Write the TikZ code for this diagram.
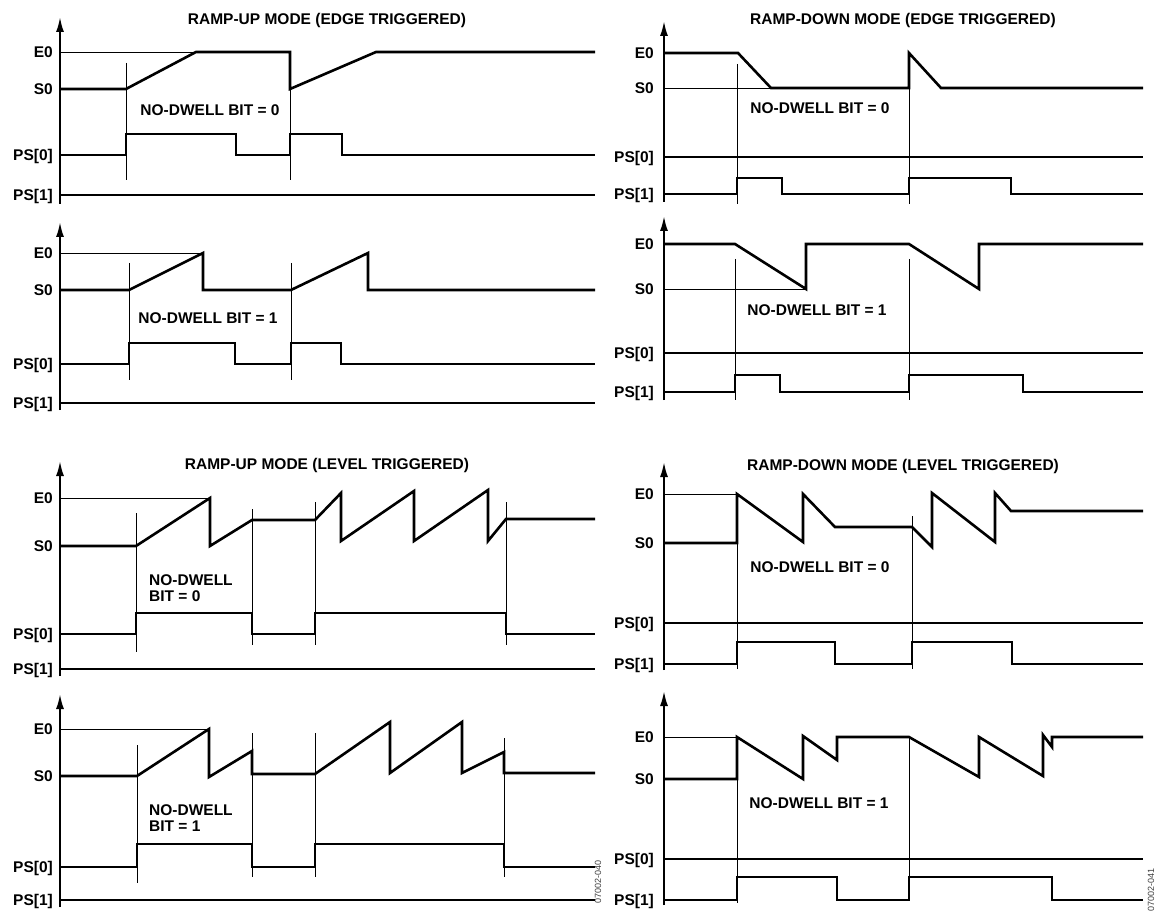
\documentclass[tikz,border=0pt]{standalone}
\usepackage{fontspec}
\setmainfont{Liberation Sans}
\usetikzlibrary{arrows.meta}

\begin{document}
\begin{tikzpicture}[x=1pt, y=-1pt,
    font=\fontsize{15.5}{16}\selectfont\bfseries,
    lbl/.style={anchor=east, inner sep=0pt, text height=11.1pt, text depth=0pt},
    note/.style={inner sep=0pt, text height=11.1pt, text depth=0pt},
    twoline/.style={inner sep=0pt, anchor=west, align=left},
    axis/.style={line width=2pt, -{Latex[length=15pt, width=8pt]}}]
  \useasboundingbox (0,0) rectangle (1157,917);

  % Titles of the four modes
  \node[note] (tUpEdge)   at (327,19)  {RAMP-UP MODE (EDGE TRIGGERED)};
  \node[note] (tDnEdge)   at (903,19)  {RAMP-DOWN MODE (EDGE TRIGGERED)};
  \node[note] (tUpLevel)  at (327,464) {RAMP-UP MODE (LEVEL TRIGGERED)};
  \node[note] (tDnLevel)  at (903,465) {RAMP-DOWN MODE (LEVEL TRIGGERED)};

  % Axes with arrow heads
  \draw[axis] (60,204) -- (60,17);
  \draw[axis] (60,410) -- (60,222);
  \draw[axis] (60,676) -- (60,461);
  \draw[axis] (60,907) -- (60,694);
  \draw[axis] (664,202) -- (664,21);
  \draw[axis] (664,400) -- (664,216);
  \draw[axis] (664,670) -- (664,462);
  \draw[axis] (664,905) -- (664,691);

  % Level names, left column
  \node[lbl] (aE)  at (53,52)  {E0};
  \node[lbl] (aS)  at (53,89)  {S0};
  \node[lbl] (aP0) at (53,155) {PS[0]};
  \node[lbl] (aP1) at (53,195) {PS[1]};
  \node[lbl] (bE)  at (53,253) {E0};
  \node[lbl] (bS)  at (53,290) {S0};
  \node[lbl] (bP0) at (53,364) {PS[0]};
  \node[lbl] (bP1) at (53,403) {PS[1]};
  \node[lbl] (cE)  at (53,498) {E0};
  \node[lbl] (cS)  at (53,546) {S0};
  \node[lbl] (cP0) at (53,634) {PS[0]};
  \node[lbl] (cP1) at (53,669) {PS[1]};
  \node[lbl] (dE)  at (53,729) {E0};
  \node[lbl] (dS)  at (53,776) {S0};
  \node[lbl] (dP0) at (53,867) {PS[0]};
  \node[lbl] (dP1) at (53,900) {PS[1]};
  % Level names, right column
  \node[lbl] (eE)  at (654,53)  {E0};
  \node[lbl] (eS)  at (654,88)  {S0};
  \node[lbl] (eP0) at (654,157) {PS[0]};
  \node[lbl] (eP1) at (654,194) {PS[1]};
  \node[lbl] (fE)  at (654,244) {E0};
  \node[lbl] (fS)  at (654,289) {S0};
  \node[lbl] (fP0) at (654,353) {PS[0]};
  \node[lbl] (fP1) at (654,392) {PS[1]};
  \node[lbl] (gE)  at (654,494) {E0};
  \node[lbl] (gS)  at (654,543) {S0};
  \node[lbl] (gP0) at (654,623) {PS[0]};
  \node[lbl] (gP1) at (654,664) {PS[1]};
  \node[lbl] (hE)  at (654,737) {E0};
  \node[lbl] (hS)  at (654,779) {S0};
  \node[lbl] (hP0) at (654,859) {PS[0]};
  \node[lbl] (hP1) at (654,900) {PS[1]};

  % No-dwell notes
  \node[note] (nA) at (210,110) {NO-DWELL BIT = 0};
  \node[note] (nB) at (208,318) {NO-DWELL BIT = 1};
  \node[twoline] (nC) at (149,588) {NO-DWELL\\BIT = 0};
  \node[twoline] (nD) at (149,818) {NO-DWELL\\BIT = 1};
  \node[note] (nE) at (820,108) {NO-DWELL BIT = 0};
  \node[note] (nF) at (817,310) {NO-DWELL BIT = 1};
  \node[note] (nG) at (820,567) {NO-DWELL BIT = 0};
  \node[note] (nH) at (819,803) {NO-DWELL BIT = 1};

  % Figure numbers
  \node[rotate=90, font=\fontsize{9}{10}\selectfont, text=black!75] (fig40) at (598,882) {07002-040};
  \node[rotate=90, font=\fontsize{9}{10}\selectfont, text=black!75] (fig41) at (1151,890) {07002-041};

  % Thin guide lines: E0/S0 reference and trigger edges
  \begin{scope}[line width=0.9pt]
    \draw (60,52) -- (196,52);
    \draw (126,63) -- (126,180);
    \draw (290,63) -- (290,180);

    \draw (60,253) -- (203,253);
    \draw (129,263) -- (129,380);
    \draw (291,263) -- (291,380);

    \draw (60,498) -- (210,498);
    \draw (136,513) -- (136,652);
    \draw (252,509) -- (252,645);
    \draw (315,502) -- (315,645);
    \draw (506,502) -- (506,645);

    \draw (60,729) -- (209,729);
    \draw (137,745) -- (137,883);
    \draw (252,733) -- (252,877);
    \draw (315,733) -- (315,877);
    \draw (504,738) -- (504,877);

    \draw (664,88) -- (771,88);
    \draw (737,64) -- (737,204);
    \draw (909,64) -- (909,204);

    \draw (664,289) -- (806,289);
    \draw (735,259) -- (735,400);
    \draw (909,259) -- (909,400);

    \draw (664,494) -- (737,494);
    \draw (737,494) -- (737,669);
    \draw (912,516) -- (912,669);

    \draw (664,737) -- (737,737);
    \draw (737,737) -- (737,903);
    \draw (909,737) -- (909,897);
  \end{scope}

  % Frequency sweeps and profile pins
  \begin{scope}[line width=2.6pt]
    % Ramp-up, edge triggered, no-dwell 0
    \draw (60,89) -- (126,89) -- (196,52) -- (290,52) -- (290,89) -- (376,52) -- (595,52);
    \draw (60,155) -- (126,155) -- (126,134) -- (236,134) -- (236,155) -- (290,155) -- (290,134) -- (342,134) -- (342,155) -- (595,155);
    \draw (60,195) -- (595,195);
    % Ramp-up, edge triggered, no-dwell 1
    \draw (60,290) -- (129,290) -- (203,253) -- (203,290) -- (291,290) -- (368,253) -- (368,290) -- (595,290);
    \draw (60,364) -- (129,364) -- (129,343) -- (235,343) -- (235,364) -- (291,364) -- (291,343) -- (341,343) -- (341,364) -- (595,364);
    \draw (60,403) -- (595,403);
    % Ramp-up, level triggered, no-dwell 0
    \draw (60,546) -- (136,546) -- (210,498) -- (210,546) -- (252,520) -- (315,520) -- (341,493) -- (341,541) -- (414,491) -- (414,541) -- (488,490) -- (488,541) -- (506,519) -- (595,519);
    \draw (60,634) -- (136,634) -- (136,613) -- (252,613) -- (252,634) -- (315,634) -- (315,613) -- (506,613) -- (506,634) -- (595,634);
    \draw (60,669) -- (595,669);
    % Ramp-up, level triggered, no-dwell 1
    \draw (60,776) -- (137,776) -- (209,729) -- (209,777) -- (252,751) -- (252,774) -- (315,774) -- (390,722) -- (390,773) -- (462,722) -- (462,773) -- (504,752) -- (504,773) -- (595,773);
    \draw (60,867) -- (137,867) -- (137,844) -- (252,844) -- (252,867) -- (315,867) -- (315,844) -- (504,844) -- (504,867) -- (595,867);
    \draw (60,900) -- (595,900);

    % Ramp-down, edge triggered, no-dwell 0
    \draw (664,53) -- (738,53) -- (771,88) -- (909,88) -- (909,53) -- (941,88) -- (1143,88);
    \draw (664,157) -- (1143,157);
    \draw (664,194) -- (737,194) -- (737,178) -- (782,178) -- (782,194) -- (909,194) -- (909,178) -- (1011,178) -- (1011,194) -- (1143,194);
    % Ramp-down, edge triggered, no-dwell 1
    \draw (664,244) -- (735,244) -- (806,289) -- (806,244) -- (909,244) -- (979,289) -- (979,244) -- (1143,244);
    \draw (664,353) -- (1143,353);
    \draw (664,392) -- (735,392) -- (735,375) -- (780,375) -- (780,392) -- (909,392) -- (909,375) -- (1023,375) -- (1023,392) -- (1143,392);
    % Ramp-down, level triggered, no-dwell 0
    \draw (664,543) -- (737,543) -- (737,494) -- (803,542) -- (803,494) -- (835,527) -- (912,527) -- (932,547) -- (932,493) -- (995,542) -- (995,493) -- (1011,511) -- (1143,511);
    \draw (664,623) -- (1143,623);
    \draw (664,664) -- (737,664) -- (737,642) -- (835,642) -- (835,664) -- (912,664) -- (912,642) -- (1012,642) -- (1012,664) -- (1143,664);
    % Ramp-down, level triggered, no-dwell 1
    \draw (664,779) -- (737,779) -- (737,737) -- (803,779) -- (803,736) -- (837,760) -- (837,737) -- (909,737) -- (979,777) -- (979,737) -- (1043,776) -- (1043,735) -- (1052,747) -- (1052,737) -- (1143,737);
    \draw (664,859) -- (1143,859);
    \draw (664,900) -- (737,900) -- (737,877) -- (837,877) -- (837,900) -- (909,900) -- (909,877) -- (1052,877) -- (1052,900) -- (1143,900);
  \end{scope}
\end{tikzpicture}
\end{document}
